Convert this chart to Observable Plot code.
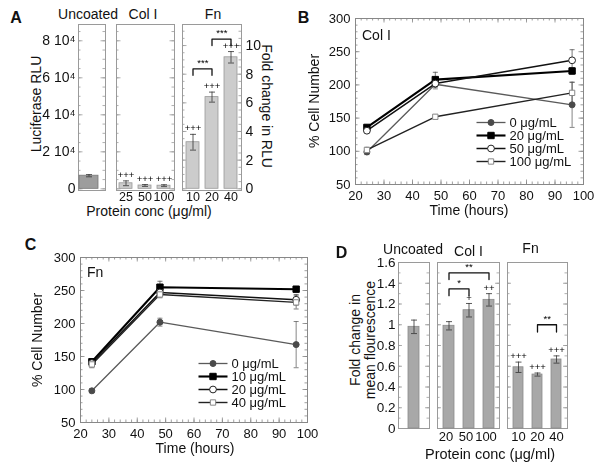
<!DOCTYPE html>
<html><head><meta charset="utf-8">
<script src="https://cdn.jsdelivr.net/npm/d3@7"></script>
<script src="https://cdn.jsdelivr.net/npm/@observablehq/plot@0.6"></script>
<style>
body{margin:0;background:#fff;}
#fig{position:relative;width:600px;height:467px;overflow:hidden;font-family:"Liberation Sans",Arial,sans-serif;color:#111;background:#fff;}
.t{position:absolute;white-space:nowrap;line-height:1;transform:translate(-50%,-50%);}
.plot{position:absolute;will-change:transform;}
</style></head><body><div id="fig"></div>
<script>
// ---------------- DATA ----------------
// Panel A: luciferase RLU
const aUncoatedCat = ["Uncoated"];
const aUncoatedRLU = [7100];
const aUncoatedErr = [600];
const aColCat = ["25", "50", "100"];
const aColRLU = [3000, 1800, 1700];
const aColErr = [1300, 500, 500];
const aColSig = ["+++", "+++", "+++"];
const aFnCat = ["10", "20", "40"];
const aFnFold = [3.25, 6.4, 9.18];
const aFnErr = [0.55, 0.35, 0.4];
const aFnSig = ["+++", "+++", "+++"];
const aBracketFrom = ["10", "20"];
const aBracketTo = ["20", "40"];
const aBracketY = [8.37, 10.45];
const aBracketText = ["***", "***"];
const aRLUTicks = [0, 20000, 40000, 60000, 80000];
const aFoldTicks = [0, 2, 4, 6, 8, 10];

// Panel B: Col I, % cell number
const bTimes = [24, 48, 96];
const bSeries = ["0 μg/mL", "20 μg/mL", "50 μg/mL", "100 μg/mL"];
const b0 = [99, 201, 170];   const b0Err = [4, 7, 34];
const b20 = [136, 208, 221]; const b20Err = [3, 11, 5];
const b50 = [131, 202, 237]; const b50Err = [3, 5, 16];
const b100 = [102, 152, 188]; const b100Err = [4, 3, 16];

// Panel C: Fn, % cell number
const cTimes = [24, 48, 96];
const cSeries = ["0 μg/mL", "10 μg/mL", "20 μg/mL", "40 μg/mL"];
const c0 = [98, 202, 168];   const c0Err = [3, 6, 35];
const c10 = [142, 255, 252]; const c10Err = [4, 9, 4];
const c20 = [140, 247, 236]; const c20Err = [4, 5, 8];
const c40 = [138, 244, 232]; const c40Err = [5, 5, 10];
const timeTicks = [20, 30, 40, 50, 60, 70, 80, 90, 100];
const cellTicks = [50, 100, 150, 200, 250, 300];

// Panel D: fold change in mean fluorescence
const dUncoatedCat = ["Uncoated"];
const dUncoatedVal = [0.98];
const dUncoatedErr = [0.065];
const dColCat = ["20", "50", "100"];
const dColVal = [0.99, 1.14, 1.24];
const dColErr = [0.04, 0.065, 0.06];
const dColSig = ["", "+", "++"];
const dColBracketFrom = ["20", "20"];
const dColBracketTo = ["50", "100"];
const dColBracketY = [1.345, 1.5];
const dColBracketText = ["*", "**"];
const dFnCat = ["10", "20", "40"];
const dFnVal = [0.59, 0.52, 0.665];
const dFnErr = [0.05, 0.015, 0.035];
const dFnSig = ["+++", "+++", "+++"];
const dFnBracketFrom = ["20"];
const dFnBracketTo = ["40"];
const dFnBracketY = [1.0];
const dFnBracketText = ["**"];
const dTicks = [0, 0.2, 0.4, 0.6, 0.8, 1, 1.2, 1.4, 1.6];

// ---------------- HELPERS ----------------
const fig = document.getElementById("fig");
const FONT = "Liberation Sans, Arial, sans-serif";
const FRAME = "#9a9a9a";

function label(str, x, y, size, opts = {}) {
  const d = document.createElement("div");
  d.className = "t";
  d.textContent = str;
  d.style.left = x + "px";
  d.style.top = y + "px";
  d.style.fontSize = size + "px";
  if (opts.bold) d.style.fontWeight = "bold";
  if (opts.rotate) d.style.transform = `translate(-50%,-50%) rotate(${opts.rotate}deg)`;
  if (opts.left) { d.style.transform = "translate(0,-50%)"; }
  fig.appendChild(d);
}

// box: frame in figure px; m: margins
function makePlot(box, m, options) {
  const [x0, y0, x1, y1] = box;
  const plot = Plot.plot({
    width: x1 - x0 + m.l + m.r,
    height: y1 - y0 + m.t + m.b,
    marginLeft: m.l, marginRight: m.r, marginTop: m.t, marginBottom: m.b,
    style: {fontFamily: FONT, fontSize: "13px", color: "#111", background: "transparent", overflow: "visible"},
    ...options
  });
  plot.classList.add("plot");
  plot.style.left = (x0 - m.l) + "px";
  plot.style.top = (y0 - m.t) + "px";
  fig.appendChild(plot);
  return plot;
}

// horizontal error-bar cap symbol
const capSymbol = {
  draw(ctx, size) {
    const r = Math.sqrt(size / Math.PI);
    ctx.moveTo(-r, 0); ctx.lineTo(r, 0);
  }
};

// inner frame ticks along left/right edges
function sideTicksY(values, frameW, len, stroke = FRAME) {
  return [
    Plot.tickY(values, {y: d => d, insetRight: frameW - len, stroke, strokeWidth: 0.8}),
    Plot.tickY(values, {y: d => d, insetLeft: frameW - len, stroke, strokeWidth: 0.8})
  ];
}
function sideTicksX(values, frameH, len, stroke = FRAME) {
  return [
    Plot.tickX(values, {x: d => d, insetTop: frameH - len, stroke, strokeWidth: 0.8}),
    Plot.tickX(values, {x: d => d, insetBottom: frameH - len, stroke, strokeWidth: 0.8})
  ];
}
const range = (a, b, s) => d3.range(a, b + s / 2, s);

function rows(cats, vals, errs, sigs) {
  return cats.map((c, i) => ({c, v: vals[i], e: errs[i], s: sigs ? sigs[i] : ""}));
}

function barMarks(data, fill, stroke, capR, errStroke = "#333") {
  return [
    Plot.barY(data, {x: "c", y: "v", fill, stroke, strokeWidth: 0.8}),
    Plot.ruleX(data, {x: "c", y1: d => d.v - d.e, y2: d => d.v + d.e, stroke: errStroke, strokeWidth: 0.8}),
    Plot.dot(data, {x: "c", y: d => d.v + d.e, symbol: capSymbol, r: capR, stroke: errStroke, strokeWidth: 0.8}),
    Plot.dot(data, {x: "c", y: d => d.v - d.e, symbol: capSymbol, r: capR, stroke: errStroke, strokeWidth: 0.8})
  ];
}

function sigMarks(data, dy, size) {
  return Plot.text(data.filter(d => d.s), {x: "c", y: d => d.v + d.e, text: "s", dy, fontSize: size, fill: "#000"});
}

function bracketMarks(band, froms, tos, ys, texts, drop, textDy, size) {
  const marks = [];
  froms.forEach((f, i) => {
    const t = tos[i], y = ys[i];
    const pts = [{x: f, y: y - drop}, {x: f, y}, {x: t, y}, {x: t, y: y - drop}];
    marks.push(Plot.line(pts, {x: "x", y: "y", stroke: "#111", strokeWidth: 1.3}));
    const dx = (band(t) - band(f)) / 2;
    marks.push(Plot.text([{x: f, y, s: texts[i]}], {x: "x", y: "y", text: "s", dx, dy: textDy, fontSize: size, fill: "#000"}));
  });
  return marks;
}

function bandScale(domain, r0, r1, pi, po) {
  return d3.scaleBand(domain, [r0, r1]).paddingInner(pi).paddingOuter(po);
}

// ---------------- PANEL A ----------------
label("A", 16, 18, 16, {bold: true});
label("Uncoated", 88, 13.5, 14);
label("Col I", 143, 13.5, 14);
label("Fn", 213, 13.5, 14);
label("Luciferase RLU", 35.5, 104, 14, {rotate: -90});
label("Fold change in RLU", 267, 106, 14, {rotate: 90});
label("Protein conc (μg/ml)", 149, 211, 14);

const rluDomain = [-900, 88800];
const foldDomain = [-0.12, 11.47];
const rluMinor = range(0, 85000, 5000);
const foldMinor = range(0, 11, 0.5);

{ // Uncoated
  const m = {l: 62, r: 1, t: 1, b: 1};
  const box = [78, 24, 105, 190];
  const data = rows(aUncoatedCat, aUncoatedRLU, aUncoatedErr);
  makePlot(box, m, {
    x: {domain: aUncoatedCat, range: [m.l + 1, m.l + 20], padding: 0, axis: null},
    y: {domain: rluDomain, axis: null},
    marks: [
      Plot.frame({stroke: FRAME}),
      ...sideTicksY(rluMinor, 27, 2.5),
      ...sideTicksY(aRLUTicks, 27, 4.5),
      ...barMarks(data, "#9d9d9d", "#777", 3),
      Plot.axisY({ticks: aRLUTicks, tickSize: 0, tickPadding: 3, fontSize: 14, label: null,
        tickFormat: d => d === 0 ? "0" : `${d / 10000} 10⁴`})
    ]
  });
}
{ // Col I
  const m = {l: 1, r: 1, t: 1, b: 20};
  const box = [116, 24, 174, 190];
  const data = rows(aColCat, aColRLU, aColErr, aColSig);
  makePlot(box, m, {
    x: {domain: aColCat, paddingInner: 0.3, paddingOuter: 0.15, label: null},
    y: {domain: rluDomain, axis: null},
    marks: [
      Plot.frame({stroke: FRAME}),
      ...sideTicksY(rluMinor, 58, 2.5),
      ...sideTicksY(aRLUTicks, 58, 4.5),
      ...barMarks(data, "#cccccc", "#999", 3),
      sigMarks(data, -6, 9.5),
      Plot.axisX({tickSize: 0, tickPadding: 2, fontSize: 12.5, label: null})
    ]
  });
}
{ // Fn
  const m = {l: 1, r: 30, t: 1, b: 20};
  const box = [182, 24, 241, 190];
  const data = rows(aFnCat, aFnFold, aFnErr, aFnSig);
  const band = bandScale(aFnCat, m.l, m.l + 59, 0.3, 0.15);
  makePlot(box, m, {
    x: {domain: aFnCat, paddingInner: 0.3, paddingOuter: 0.15, label: null},
    y: {domain: foldDomain, axis: null},
    marks: [
      Plot.frame({stroke: FRAME}),
      ...sideTicksY(foldMinor, 59, 2.5),
      ...sideTicksY(aFoldTicks, 59, 4.5),
      ...barMarks(data, "#cccccc", "#999", 3),
      sigMarks(data, -6, 9.5),
      ...bracketMarks(band, aBracketFrom, aBracketTo, aBracketY, aBracketText, 0.45, -6, 9.5),
      Plot.axisY({anchor: "right", ticks: aFoldTicks, tickSize: 0, tickPadding: 4, fontSize: 14, label: null}),
      Plot.axisX({tickSize: 0, tickPadding: 2, fontSize: 12.5, label: null})
    ]
  });
}

// ---------------- LINE PANELS (B, C) ----------------
function seriesTable(names, times, vals, errs) {
  const out = [];
  names.forEach((n, k) => times.forEach((t, i) => out.push({s: n, t, v: vals[k][i], e: errs[k][i]})));
  return out;
}
const styleOf = [
  {stroke: "#5a5a5a", sw: 1.3, symbol: "circle", fill: "#4a4a4a", mstroke: "#4a4a4a", r: 3},
  {stroke: "#000", sw: 2.1, symbol: "square", fill: "#000", mstroke: "#000", r: 3.6},
  {stroke: "#111", sw: 1.5, symbol: "circle", fill: "#fff", mstroke: "#222", r: 3.4},
  {stroke: "#222", sw: 1.4, symbol: "square", fill: "#fff", mstroke: "#888", r: 3}
];

function linePanel(box, names, times, vals, errs, legendBox) {
  const m = {l: 40, r: 14, t: 6, b: 24};
  const data = seriesTable(names, times, vals, errs);
  const W = box[2] - box[0], H = box[3] - box[1];
  const marks = [
    Plot.frame({stroke: "#888"}),
    ...sideTicksX(range(20, 100, 2), H, 2.5, "#888"),
    ...sideTicksX(timeTicks, H, 4.5, "#888"),
    ...sideTicksY(range(50, 300, 10), W, 2.5, "#888"),
    ...sideTicksY(cellTicks, W, 4.5, "#888")
  ];
  names.forEach((n, k) => {
    const st = styleOf[k];
    const d = data.filter(r => r.s === n);
    marks.push(Plot.line(d, {x: "t", y: "v", stroke: st.stroke, strokeWidth: st.sw}));
  });
  names.forEach((n, k) => {
    const d = data.filter(r => r.s === n);
    const ec = k === 0 ? "#666" : "#555";
    marks.push(Plot.ruleX(d, {x: "t", y1: r => r.v - r.e, y2: r => r.v + r.e, stroke: ec, strokeWidth: 0.8}));
    marks.push(Plot.dot(d, {x: "t", y: r => r.v + r.e, symbol: capSymbol, r: 2.5, stroke: ec, strokeWidth: 0.8}));
    marks.push(Plot.dot(d, {x: "t", y: r => r.v - r.e, symbol: capSymbol, r: 2.5, stroke: ec, strokeWidth: 0.8}));
  });
  names.forEach((n, k) => {
    const st = styleOf[k];
    const d = data.filter(r => r.s === n);
    marks.push(Plot.dot(d, {x: "t", y: "v", symbol: st.symbol, r: st.r, fill: st.fill, stroke: st.mstroke, strokeWidth: 1}));
  });
  marks.push(Plot.axisX({ticks: timeTicks, tickSize: 0, tickPadding: 6, fontSize: 13, label: null}));
  marks.push(Plot.axisY({ticks: cellTicks, tickSize: 0, tickPadding: 5, fontSize: 13, label: null}));
  makePlot(box, m, {
    x: {domain: [20, 100]},
    y: {domain: [50, 300]},
    marks
  });
  // legend drawn by a small Plot
  const [lx, ly, lw, lh] = legendBox;
  const leg = names.map((n, k) => ({n, k}));
  const lp = Plot.plot({
    width: lw, height: lh, margin: 0,
    style: {fontFamily: FONT, fontSize: "13px", color: "#111", background: "transparent", overflow: "visible"},
    x: {domain: [0, 1], range: [2, 31], axis: null},
    y: {type: "point", domain: names, range: [8, lh - 8], axis: null},
    marks: [
      Plot.link(leg, {x1: 0, x2: 1, y1: d => d.n, y2: d => d.n, stroke: d => styleOf[d.k].stroke, strokeWidth: d => styleOf[d.k].sw}),
      ...leg.map(d => Plot.dot([d], {x: 0.5, y: e => e.n, symbol: styleOf[d.k].symbol, r: styleOf[d.k].r, fill: styleOf[d.k].fill, stroke: styleOf[d.k].mstroke, strokeWidth: 1})),
      Plot.text(leg, {x: 1, y: d => d.n, text: d => d.n, dx: 4, textAnchor: "start", fill: "#111"})
    ]
  });
  lp.classList.add("plot");
  lp.style.left = lx + "px";
  lp.style.top = ly + "px";
  fig.appendChild(lp);
}

// Panel B
label("B", 303.5, 17.5, 16, {bold: true});
linePanel([355, 18, 583, 184], bSeries, bTimes, [b0, b20, b50, b100], [b0Err, b20Err, b50Err, b100Err], [474, 107, 110, 69]);
label("Col I", 362, 34.5, 14, {left: true});
label("% Cell Number", 313.5, 101, 14, {rotate: -90});
label("Time (hours)", 469, 210, 14);

// Panel C
label("C", 30.5, 245, 16, {bold: true});
linePanel([80, 257, 307, 422], cSeries, cTimes, [c0, c10, c20, c40], [c0Err, c10Err, c20Err, c40Err], [196, 348, 110, 69]);
label("Fn", 87, 272, 14, {left: true});
label("% Cell Number", 36.5, 340, 14, {rotate: -90});
label("Time (hours)", 195, 447.5, 14);

// ---------------- PANEL D ----------------
label("D", 341.5, 253, 16, {bold: true});
label("Uncoated", 413, 248.5, 14);
label("Col I", 468.5, 250.5, 14);
label("Fn", 530.5, 247.5, 14);
label("Fold change in", 354.5, 340, 14, {rotate: -90});
label("mean flourescence", 369.5, 340, 14, {rotate: -90});
label("Protein conc (μg/ml)", 490, 454, 14.5);

const dDomain = [0, 1.6];
const dMinor = range(0, 1.6, 0.1);
{ // Uncoated
  const m = {l: 32, r: 1, t: 1, b: 1};
  const box = [398, 262, 429, 428];
  const data = rows(dUncoatedCat, dUncoatedVal, dUncoatedErr);
  makePlot(box, m, {
    x: {domain: dUncoatedCat, paddingInner: 0.45, paddingOuter: 0.5, axis: null},
    y: {domain: dDomain, axis: null},
    marks: [
      Plot.frame({stroke: FRAME}),
      ...sideTicksY(dMinor, 31, 2.5),
      ...sideTicksY(dTicks, 31, 4),
      ...barMarks(data, "#a8a8a8", "#8a8a8a", 3),
      Plot.axisY({ticks: dTicks, tickSize: 0, tickPadding: 3, fontSize: 13.5, label: null, tickFormat: d => String(+d.toFixed(1))})
    ]
  });
}
{ // Col I
  const m = {l: 1, r: 1, t: 1, b: 20};
  const box = [437, 262, 499, 428];
  const data = rows(dColCat, dColVal, dColErr, dColSig);
  const band = bandScale(dColCat, m.l, m.l + 62, 0.45, 0.275);
  makePlot(box, m, {
    x: {domain: dColCat, paddingInner: 0.45, paddingOuter: 0.275, label: null},
    y: {domain: dDomain, axis: null},
    marks: [
      Plot.frame({stroke: FRAME}),
      ...sideTicksY(dMinor, 62, 2.5),
      ...sideTicksY(dTicks, 62, 4),
      ...barMarks(data, "#a8a8a8", "#8a8a8a", 3),
      sigMarks(data, -6, 9.5),
      ...bracketMarks(band, dColBracketFrom, dColBracketTo, dColBracketY, dColBracketText, 0.065, -6, 9.5),
      Plot.axisX({tickSize: 0, tickPadding: 3, fontSize: 13, dx: -3, label: null})
    ]
  });
}
{ // Fn
  const m = {l: 1, r: 1, t: 1, b: 20};
  const box = [507, 262, 567, 428];
  const data = rows(dFnCat, dFnVal, dFnErr, dFnSig);
  const band = bandScale(dFnCat, m.l, m.l + 60, 0.45, 0.275);
  makePlot(box, m, {
    x: {domain: dFnCat, paddingInner: 0.45, paddingOuter: 0.275, label: null},
    y: {domain: dDomain, axis: null},
    marks: [
      Plot.frame({stroke: FRAME}),
      ...sideTicksY(dMinor, 60, 2.5),
      ...sideTicksY(dTicks, 60, 4),
      ...barMarks(data, "#a8a8a8", "#8a8a8a", 3),
      sigMarks(data, -6, 9.5),
      ...bracketMarks(band, dFnBracketFrom, dFnBracketTo, dFnBracketY, dFnBracketText, 0.07, -6, 9.5),
      Plot.axisX({tickSize: 0, tickPadding: 3, fontSize: 13, label: null})
    ]
  });
}
</script></body></html>
